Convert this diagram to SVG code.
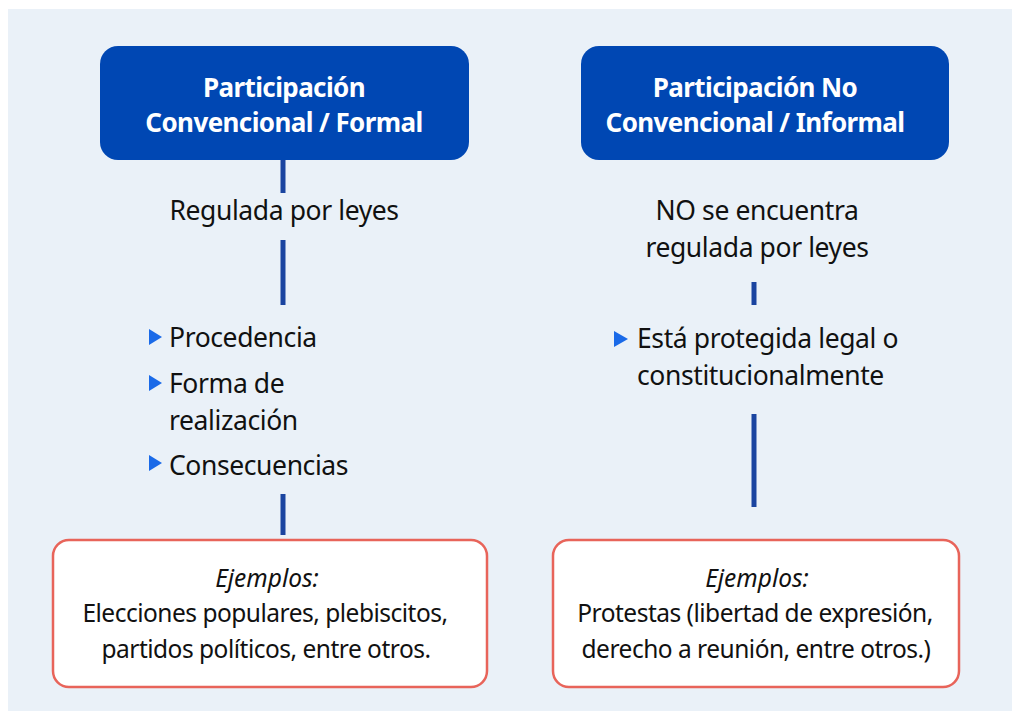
<svg xmlns="http://www.w3.org/2000/svg" width="1012" height="711" viewBox="0 0 1012 711">
<style>
.head{fill:#0047B3}
.ex{fill:#FFFFFF;stroke:#E8645A;stroke-width:2.5}
.ht{font-family:"Noto Sans","Liberation Sans",sans-serif;font-weight:bold;font-size:26px;fill:#FFFFFF;text-anchor:middle;letter-spacing:-0.6px}
.t{font-family:"Noto Sans","Liberation Sans",sans-serif;font-size:26.5px;fill:#111111;letter-spacing:-0.4px}
.s{font-size:24.5px;letter-spacing:-0.5px}
.c{text-anchor:middle}
.it{font-style:italic;letter-spacing:0}
.bul{fill:#1A6AE8}
.con{stroke:#1A44A0;stroke-width:5;fill:none}
</style>
<rect x="8" y="9" width="1004" height="702" fill="#EAF1F8"/>
<g id="connectors">
<line class="con" x1="283" y1="160" x2="283" y2="193"/>
<line class="con" x1="283" y1="240" x2="283" y2="305"/>
<line class="con" x1="283" y1="494" x2="283" y2="535"/>
<line class="con" x1="754" y1="282" x2="754" y2="305"/>
<line class="con" x1="754" y1="414" x2="754" y2="507"/>
</g>
<g id="head-formal">
<rect class="head" x="100" y="46" width="369" height="114" rx="18"/>
<text class="ht" x="284" y="97">Participación</text>
<text class="ht" x="284" y="132">Convencional / Formal</text>
</g>
<g id="head-informal">
<rect class="head" x="581" y="46" width="368" height="114" rx="18"/>
<text class="ht" x="755" y="97">Participación No</text>
<text class="ht" x="755" y="132">Convencional / Informal</text>
</g>
<g id="regulada">
<text class="t c" x="284" y="220">Regulada por leyes</text>
</g>
<g id="no-regulada">
<text class="t c" x="757" y="220">NO se encuentra</text>
<text class="t c" x="757" y="257">regulada por leyes</text>
</g>
<g id="list-formal">
<polygon class="bul" points="149,329 162,337 149,345"/>
<text class="t" x="169" y="347">Procedencia</text>
<polygon class="bul" points="149,375 162,383 149,391"/>
<text class="t" x="169" y="393">Forma de</text>
<text class="t" x="169" y="430">realización</text>
<polygon class="bul" points="149,455 162,463 149,471"/>
<text class="t" x="169" y="475">Consecuencias</text>
</g>
<g id="list-informal">
<polygon class="bul" points="614,331 628,339 614,347"/>
<text class="t" x="637" y="348">Está protegida legal o</text>
<text class="t" x="637" y="385">constitucionalmente</text>
</g>
<g id="ejemplos-formal">
<rect class="ex" x="53" y="540" width="434" height="147" rx="16"/>
<text class="t s c it" x="267" y="587">Ejemplos:</text>
<text class="t s c" x="265" y="622">Elecciones populares, plebiscitos,</text>
<text class="t s c" x="266" y="658">partidos políticos, entre otros.</text>
</g>
<g id="ejemplos-informal">
<rect class="ex" x="553" y="540" width="406" height="147" rx="16"/>
<text class="t s c it" x="757" y="587">Ejemplos:</text>
<text class="t s c" x="755" y="622">Protestas (libertad de expresión,</text>
<text class="t s c" x="756" y="658">derecho a reunión, entre otros.)</text>
</g>
</svg>
